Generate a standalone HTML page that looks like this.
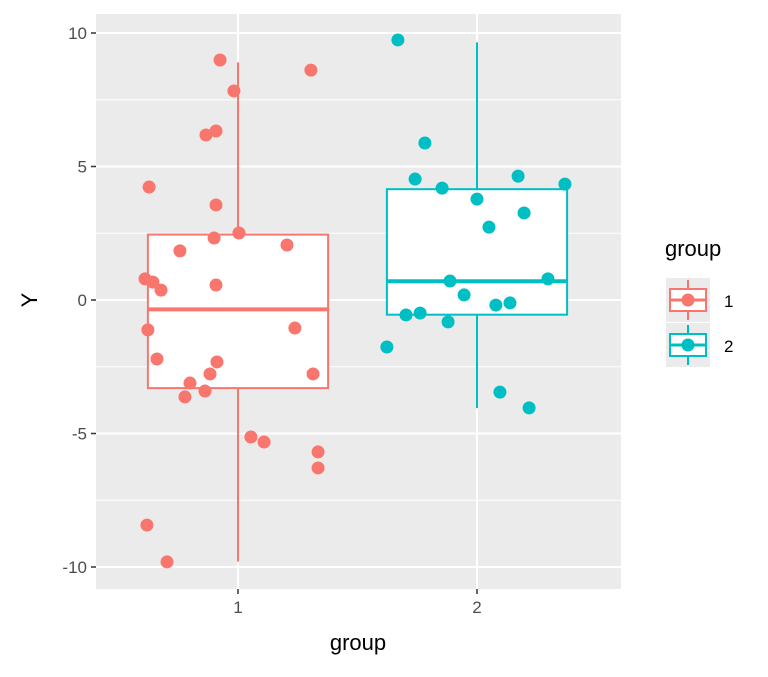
<!DOCTYPE html>
<html><head><meta charset="utf-8"><style>
body{margin:0;background:#fff;font-family:"Liberation Sans",sans-serif}
</style></head><body>
<svg id="chart" width="768" height="672" xmlns="http://www.w3.org/2000/svg" font-family="Liberation Sans, sans-serif"></svg>
<script>
const groups = ["1","2"];
const colors = ["#F8766D","#00BFC4"];
const yTicks = [10,5,0,-5,-10];
const yMinor = [7.5,2.5,-2.5,-7.5];
const boxQ1 = [-3.3,-0.55];
const boxMed = [-0.35,0.7];
const boxQ3 = [2.45,4.15];
const whiskLo = [-9.8,-4.05];
const whiskHi = [8.9,9.65];
const g1y = [8.99,7.83,8.61,6.18,6.33,4.23,3.56,2.51,1.84,2.32,2.06,0.79,0.67,0.37,0.56,-1.12,-1.05,-2.21,-2.32,-2.77,-2.77,-3.11,-3.41,-3.63,-5.13,-5.32,-5.69,-6.29,-8.43,-9.81];
const g1dx = [-0.075,-0.017,0.305,-0.134,-0.092,-0.372,-0.092,0.004,-0.243,-0.1,0.205,-0.389,-0.356,-0.322,-0.092,-0.377,0.238,-0.339,-0.088,0.314,-0.117,-0.201,-0.138,-0.222,0.054,0.109,0.335,0.335,-0.381,-0.297];
const g2y = [9.74,5.88,4.53,4.19,4.64,4.34,3.78,3.26,2.73,0.71,0.79,0.19,-0.19,-0.11,-0.56,-0.49,-0.82,-1.76,-3.45,-4.04];
const g2dx = [-0.331,-0.218,-0.259,-0.146,0.172,0.368,0,0.197,0.05,-0.113,0.297,-0.054,0.079,0.138,-0.297,-0.238,-0.121,-0.377,0.096,0.218];

const svg=document.getElementById('chart');
const NS="http://www.w3.org/2000/svg";
function el(t,a,p){const e=document.createElementNS(NS,t);for(const k in a)e.setAttribute(k,a[k]);(p||svg).appendChild(e);return e;}
const PL=96,PR=621,PT=14,PB=589;
const yS=v=>300-v*26.7;
const xS=v=>238+(v-1)*239;

let bg=el('rect',{x:PL,y:PT,width:PR-PL,height:PB-PT,fill:'#EBEBEB'});

yMinor.forEach(v=>{let l=el('line',{x1:PL,x2:PR,y1:yS(v),y2:yS(v),stroke:'#fff','stroke-width':1});
});
yTicks.forEach(v=>{let l=el('line',{x1:PL,x2:PR,y1:yS(v),y2:yS(v),stroke:'#fff','stroke-width':2});

let t=el('line',{x1:PL-5,x2:PL,y1:yS(v),y2:yS(v),stroke:'#333','stroke-width':1.5});

let tx=el('text',{x:PL-9,y:yS(v)+6,'text-anchor':'end','font-size':17,fill:'#4D4D4D'});tx.textContent=v;
});
groups.forEach((g,i)=>{const x=xS(i+1);
let l=el('line',{x1:x,x2:x,y1:PT,y2:PB,stroke:'#fff','stroke-width':2});

let t=el('line',{x1:x,x2:x,y1:PB,y2:PB+5,stroke:'#333','stroke-width':1.5});

let tx=el('text',{x:x,y:PB+24,'text-anchor':'middle','font-size':17,fill:'#4D4D4D'});tx.textContent=g;
});

groups.forEach((g,i)=>{const x=xS(i+1),c=colors[i],hw=0.377*239;
let w=el('line',{x1:x,x2:x,y1:yS(whiskHi[i]),y2:yS(whiskLo[i]),stroke:c,'stroke-width':2});

let b=el('rect',{x:x-hw,y:yS(boxQ3[i]),width:2*hw,height:yS(boxQ1[i])-yS(boxQ3[i]),fill:'#fff',stroke:c,'stroke-width':2});

let m=el('line',{x1:x-hw,x2:x+hw,y1:yS(boxMed[i]),y2:yS(boxMed[i]),stroke:c,'stroke-width':4});
});

[[g1y,g1dx],[g2y,g2dx]].forEach((s,i)=>{s[0].forEach((v,j)=>{
let p=el('circle',{cx:xS(i+1+s[1][j]),cy:yS(v),r:6.5,fill:colors[i]});
});});

let xt=el('text',{x:358,y:650,'text-anchor':'middle','font-size':22,fill:'#000'});xt.textContent='group';

let yt=el('text',{x:37,y:300,'text-anchor':'middle','font-size':22,fill:'#000',transform:'rotate(-90 37 300)'});yt.textContent='Y';


let lt=el('text',{x:665,y:256,'font-size':22,fill:'#000'});lt.textContent='group';

groups.forEach((g,i)=>{const y0=278+i*45,c=colors[i];
let k=el('rect',{x:666,y:y0,width:44,height:44,fill:'#EBEBEB'});

el('line',{x1:688,x2:688,y1:y0+2,y2:y0+42,stroke:c,'stroke-width':2});
el('rect',{x:670,y:y0+11,width:36,height:22,fill:'#fff',stroke:c,'stroke-width':2});
el('line',{x1:670,x2:706,y1:y0+22,y2:y0+22,stroke:c,'stroke-width':3});
el('circle',{cx:688,cy:y0+22,r:6.5,fill:c});
let t=el('text',{x:724,y:y0+29,'font-size':17,fill:'#000'});t.textContent=g;
});
</script>
</body></html>
